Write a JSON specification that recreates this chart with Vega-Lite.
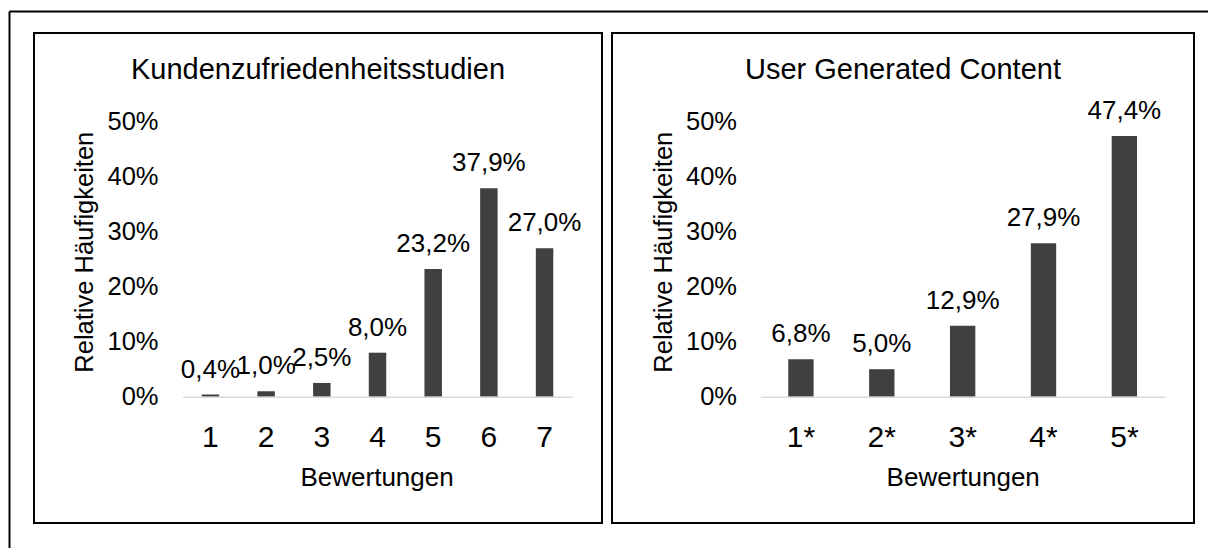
{
  "$schema": "https://vega.github.io/schema/vega-lite/v6.json",
  "autosize": "none",
  "padding": {"left": 9, "top": 11, "right": 0, "bottom": 0},
  "width": 1199,
  "height": 537,
  "background": "white",
  "datasets": {
    "panels": [
      {"panel": "Kundenzufriedenheitsstudien"},
      {"panel": "User Generated Content"}
    ],
    "kunden": [
      {"rating": "1", "share": 0.004},
      {"rating": "2", "share": 0.010},
      {"rating": "3", "share": 0.025},
      {"rating": "4", "share": 0.080},
      {"rating": "5", "share": 0.232},
      {"rating": "6", "share": 0.379},
      {"rating": "7", "share": 0.270}
    ],
    "ugc": [
      {"rating": "1*", "share": 0.068},
      {"rating": "2*", "share": 0.050},
      {"rating": "3*", "share": 0.129},
      {"rating": "4*", "share": 0.279},
      {"rating": "5*", "share": 0.474}
    ]
  },
  "resolve": {"scale": {"x": "independent", "y": "independent"}},
  "layer": [
    {
      "data": {"name": "panels"},
      "transform": [{"filter": "datum.panel === 'Kundenzufriedenheitsstudien'"}],
      "encoding": {
        "x": {"field": "panel", "type": "nominal",
          "scale": {"type": "band", "paddingInner": 0, "paddingOuter": 0.55546, "align": 0.03962, "round": false},
          "axis": {"orient": "top", "labels": false, "ticks": false, "title": null, "grid": false, "domainColor": "#000000", "domainWidth": 2}}
      },
      "layer": [
        {
          "mark": {"type": "rect", "filled": false, "stroke": "#000000", "strokeWidth": 2},
          "encoding": {
            "y": {"datum": 0.66127, "type": "quantitative",
              "scale": {"domain": [-0.2751, 0.7013], "nice": false, "zero": false},
              "axis": {"orient": "left", "labels": false, "ticks": false, "title": null, "grid": false, "domainColor": "#000000", "domainWidth": 2}},
            "y2": {"datum": -0.22964}
          }
        },
        {
          "mark": {"type": "text", "fontSize": 29, "baseline": "alphabetic", "color": "#000000"},
          "encoding": {
            "y": {"datum": 0.57764, "type": "quantitative",
              "scale": {"domain": [-0.2751, 0.7013], "nice": false, "zero": false},
              "axis": {"orient": "left", "labels": false, "ticks": false, "title": null, "grid": false, "domainColor": "#000000", "domainWidth": 2}},
            "text": {"field": "panel"}
          }
        }
      ]
    },
    {
      "data": {"name": "panels"},
      "transform": [{"filter": "datum.panel === 'User Generated Content'"}],
      "encoding": {
        "x": {"field": "panel", "type": "nominal",
          "scale": {"type": "band", "paddingInner": 0, "paddingOuter": 0.53007, "align": 0.97731, "round": false},
          "axis": null}
      },
      "layer": [
        {
          "mark": {"type": "rect", "filled": false, "stroke": "#000000", "strokeWidth": 2},
          "encoding": {
            "y": {"datum": 0.66127, "type": "quantitative",
              "scale": {"domain": [-0.2751, 0.7013], "nice": false, "zero": false}, "axis": null},
            "y2": {"datum": -0.22964}
          }
        },
        {
          "mark": {"type": "text", "fontSize": 29, "baseline": "alphabetic", "color": "#000000"},
          "encoding": {
            "y": {"datum": 0.57764, "type": "quantitative",
              "scale": {"domain": [-0.2751, 0.7013], "nice": false, "zero": false}, "axis": null},
            "text": {"field": "panel"}
          }
        }
      ]
    },
    {
      "data": {"name": "kunden"},
      "encoding": {
        "x": {"field": "rating", "type": "nominal", "sort": null,
          "scale": {"type": "band", "range": [173.6, 563.4], "paddingInner": 0.6865, "paddingOuter": 0.34325, "align": 0.5, "round": false},
          "axis": {"orient": "bottom", "offset": -151.3, "zindex": 1, "domain": true, "domainColor": "#d9d9d9", "domainWidth": 1.5,
            "ticks": false, "tickSize": 0, "labelPadding": 49.3,
            "labelBaseline": "alphabetic", "labelFontSize": 30, "labelAngle": 0, "labelColor": "#000000", "grid": false,
            "title": "Bewertungen", "titleFontSize": 26, "titleFontWeight": "normal", "titleColor": "#000000",
            "titleX": 367.6, "titleY": 88.3, "titleAlign": "center", "titleBaseline": "alphabetic"}},
        "y": {"field": "share", "type": "quantitative", "stack": null,
          "scale": {"domain": [-0.2751, 0.7013], "nice": false, "zero": false},
          "axis": {"orient": "left", "offset": -149, "zindex": 1, "domain": false, "ticks": false, "tickSize": 0, "labelPadding": 0,
            "values": [0, 0.1, 0.2, 0.3, 0.4, 0.5], "format": ".0%", "labelFontSize": 25.5, "labelColor": "#000000", "grid": false,
            "title": "Relative Häufigkeiten", "titleFontSize": 25.5, "titleFontWeight": "normal", "titleColor": "#000000",
            "titleX": -66, "titleY": 240.7, "titleAngle": -90, "titleAlign": "center", "titleBaseline": "alphabetic"}}
      },
      "layer": [
        {"mark": {"type": "bar", "color": "#404040"}},
        {
          "mark": {"type": "text", "dy": -17, "baseline": "alphabetic", "fontSize": 26, "color": "#000000"},
          "encoding": {"text": {"field": "share", "type": "quantitative", "format": ".1%"}}
        }
      ]
    },
    {
      "data": {"name": "ugc"},
      "encoding": {
        "x": {"field": "rating", "type": "nominal", "sort": null,
          "scale": {"type": "band", "range": [751.5, 1155.8], "paddingInner": 0.6865, "paddingOuter": 0.34325, "align": 0.5, "round": false},
          "axis": {"orient": "bottom", "offset": -151.3, "zindex": 1, "domain": true, "domainColor": "#d9d9d9", "domainWidth": 1.5,
            "ticks": false, "tickSize": 0, "labelPadding": 49.3,
            "labelBaseline": "alphabetic", "labelFontSize": 30, "labelAngle": 0, "labelColor": "#000000", "grid": false,
            "title": "Bewertungen", "titleFontSize": 26, "titleFontWeight": "normal", "titleColor": "#000000",
            "titleX": 953.7, "titleY": 88.3, "titleAlign": "center", "titleBaseline": "alphabetic"}},
        "y": {"field": "share", "type": "quantitative", "stack": null,
          "scale": {"domain": [-0.2751, 0.7013], "nice": false, "zero": false},
          "axis": {"orient": "left", "offset": -727.5, "zindex": 1, "domain": false, "ticks": false, "tickSize": 0, "labelPadding": 0,
            "values": [0, 0.1, 0.2, 0.3, 0.4, 0.5], "format": ".0%", "labelFontSize": 25.5, "labelColor": "#000000", "grid": false,
            "title": "Relative Häufigkeiten", "titleFontSize": 25.5, "titleFontWeight": "normal", "titleColor": "#000000",
            "titleX": -65, "titleY": 240.7, "titleAngle": -90, "titleAlign": "center", "titleBaseline": "alphabetic"}}
      },
      "layer": [
        {"mark": {"type": "bar", "color": "#404040"}},
        {
          "mark": {"type": "text", "dy": -17, "baseline": "alphabetic", "fontSize": 26, "color": "#000000"},
          "encoding": {"text": {"field": "share", "type": "quantitative", "format": ".1%"}}
        }
      ]
    }
  ],
  "config": {
    "font": "Liberation Sans",
    "view": {"stroke": null},
    "locale": {"number": {"decimal": ",", "thousands": ".", "grouping": [3], "currency": ["", " €"]}}
  }
}
